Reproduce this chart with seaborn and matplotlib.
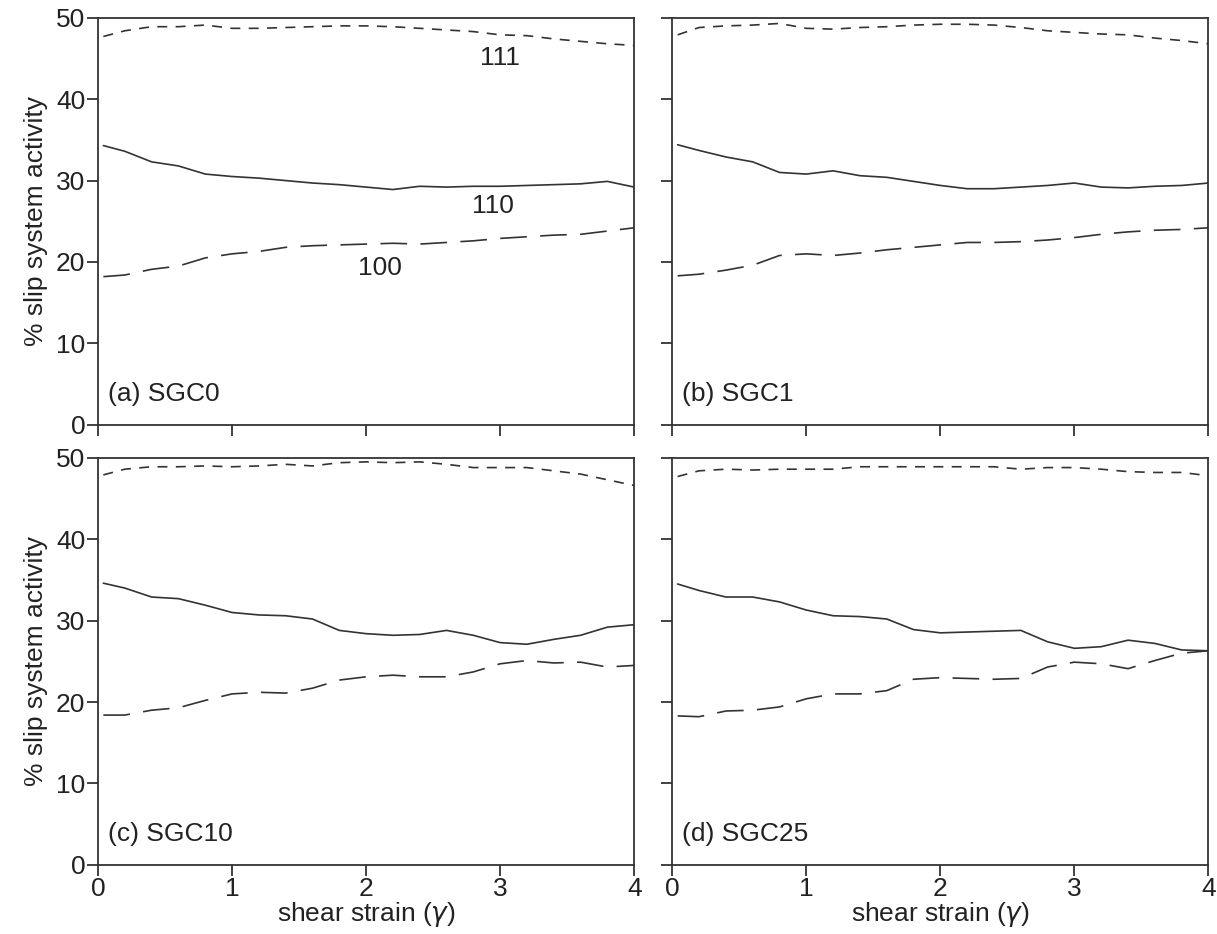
import numpy as np
import pandas as pd
import seaborn as sns
import matplotlib.pyplot as plt

# shear strain positions where values were read
strain = [0.04, 0.2, 0.4, 0.6, 0.8, 1.0, 1.2, 1.4, 1.6, 1.8, 2.0,
          2.2, 2.4, 2.6, 2.8, 3.0, 3.2, 3.4, 3.6, 3.8, 4.0]

panels = ['(a) SGC0', '(b) SGC1', '(c) SGC10', '(d) SGC25']

# % slip system activity per slip system
sgc0_111 = [47.7, 48.4, 48.9, 48.9, 49.1, 48.7, 48.7, 48.8, 48.9, 49.0, 49.0,
            48.9, 48.7, 48.5, 48.3, 47.9, 47.8, 47.4, 47.1, 46.8, 46.6]
sgc0_110 = [34.3, 33.6, 32.3, 31.8, 30.8, 30.5, 30.3, 30.0, 29.7, 29.5, 29.2,
            28.9, 29.3, 29.2, 29.3, 29.3, 29.4, 29.5, 29.6, 29.9, 29.2]
sgc0_100 = [18.2, 18.4, 19.1, 19.5, 20.5, 21.0, 21.3, 21.8, 22.0, 22.1, 22.2,
            22.3, 22.2, 22.4, 22.6, 22.9, 23.1, 23.3, 23.4, 23.8, 24.2]

sgc1_111 = [47.9, 48.8, 49.0, 49.1, 49.3, 48.7, 48.6, 48.8, 48.9, 49.1, 49.2,
            49.2, 49.1, 48.8, 48.4, 48.2, 48.0, 47.9, 47.5, 47.2, 46.8]
sgc1_110 = [34.4, 33.7, 32.9, 32.3, 31.0, 30.8, 31.2, 30.6, 30.4, 29.9, 29.4,
            29.0, 29.0, 29.2, 29.4, 29.7, 29.2, 29.1, 29.3, 29.4, 29.7]
sgc1_100 = [18.3, 18.5, 19.0, 19.6, 20.8, 21.0, 20.8, 21.1, 21.5, 21.8, 22.1,
            22.4, 22.4, 22.5, 22.7, 23.0, 23.4, 23.7, 23.9, 24.0, 24.2]

sgc10_111 = [47.9, 48.6, 48.9, 48.9, 49.0, 48.9, 49.0, 49.2, 49.0, 49.4, 49.5,
             49.4, 49.5, 49.2, 48.8, 48.8, 48.8, 48.4, 48.0, 47.3, 46.6]
sgc10_110 = [34.6, 34.0, 32.9, 32.7, 31.9, 31.0, 30.7, 30.6, 30.2, 28.8, 28.4,
             28.2, 28.3, 28.8, 28.2, 27.3, 27.1, 27.7, 28.2, 29.2, 29.5]
sgc10_100 = [18.4, 18.4, 19.0, 19.3, 20.2, 21.0, 21.2, 21.1, 21.7, 22.7, 23.1,
             23.3, 23.1, 23.1, 23.7, 24.7, 25.1, 24.8, 24.9, 24.3, 24.5]

sgc25_111 = [47.7, 48.4, 48.6, 48.5, 48.6, 48.6, 48.6, 48.9, 48.9, 48.9, 48.9,
             48.9, 48.9, 48.6, 48.8, 48.8, 48.6, 48.3, 48.2, 48.2, 47.8]
sgc25_110 = [34.5, 33.7, 32.9, 32.9, 32.3, 31.3, 30.6, 30.5, 30.2, 28.9, 28.5,
             28.6, 28.7, 28.8, 27.4, 26.6, 26.8, 27.6, 27.2, 26.4, 26.3]
sgc25_100 = [18.3, 18.2, 18.9, 19.0, 19.4, 20.4, 21.0, 21.0, 21.4, 22.8, 23.0,
             22.9, 22.8, 22.9, 24.3, 24.9, 24.7, 24.1, 25.1, 26.0, 26.3]

series = [
    (sgc0_111, sgc0_110, sgc0_100),
    (sgc1_111, sgc1_110, sgc1_100),
    (sgc10_111, sgc10_110, sgc10_100),
    (sgc25_111, sgc25_110, sgc25_100),
]

sns.set_style('ticks')
plt.rcParams['font.family'] = ['Liberation Sans', 'DejaVu Sans']
plt.rcParams['mathtext.fontset'] = 'dejavusans'

ink = '#333333'
txt = '#222222'
fs = 19
styles = {
    '111': (0, (6, 5)),
    '110': '-',
    '100': (0, (16, 8)),
}

fig, axes = plt.subplots(2, 2, figsize=(12.17, 9.34), dpi=100,
                         sharex=True, sharey=True)
fig.subplots_adjust(left=0.0805, right=0.993, bottom=0.074, top=0.981,
                    wspace=0.071, hspace=0.081)

for ax, name, vals in zip(axes.flat, panels, series):
    for system, y in zip(('111', '110', '100'), vals):
        sns.lineplot(x=strain, y=y, ax=ax, color=ink, linewidth=1.2,
                     linestyle=styles[system])
    ax.set(xlim=(0, 4), ylim=(0, 50), xticks=range(5),
           yticks=range(0, 51, 10))
    ax.text(0.018, 0.075, name, transform=ax.transAxes, fontsize=fs,
            color=txt, va='center', ha='left')
    for side in ax.spines.values():
        side.set_color(ink)
        side.set_linewidth(1.3)
    ax.tick_params(direction='out', length=8, width=1.3, color=ink,
                   labelsize=fs, labelcolor=txt, pad=1)

for ax in axes[:, 0]:
    ax.set_ylabel('% slip system activity', fontsize=fs, color=txt,
                  labelpad=6)
for ax in axes[1, :]:
    ax.set_xlabel(r'shear strain ($\gamma$)', fontsize=fs, color=txt,
                  labelpad=-1)

# curve labels in panel (a)
ax = axes[0, 0]
ax.text(3.0, 45.0, '111', fontsize=fs, color=txt, ha='center', va='center')
ax.text(2.95, 26.9, '110', fontsize=fs, color=txt, ha='center', va='center')
ax.text(2.1, 19.3, '100', fontsize=fs, color=txt, ha='center', va='center')

fig.savefig('out.png', dpi=100)
